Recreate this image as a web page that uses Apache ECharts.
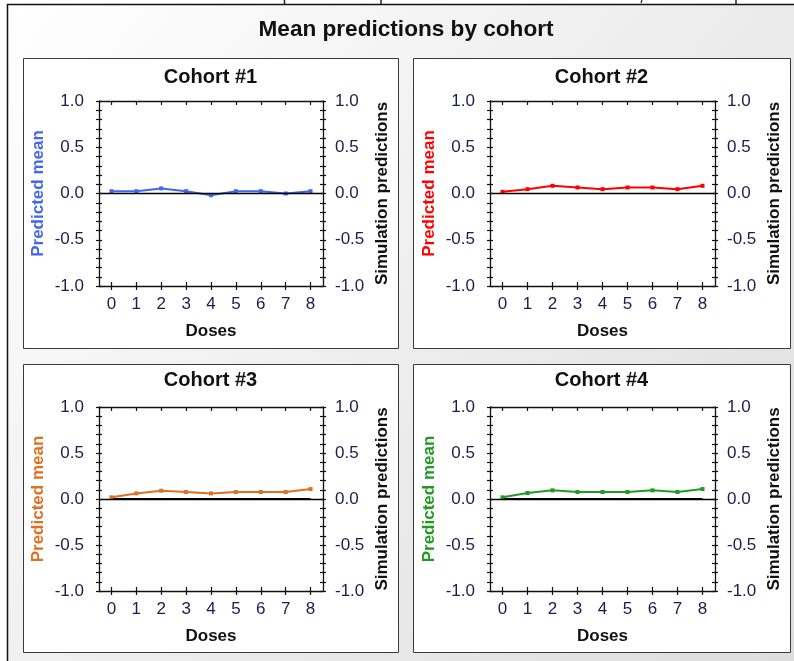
<!DOCTYPE html>
<html>
<head>
<meta charset="utf-8">
<script src="https://cdn.jsdelivr.net/npm/echarts@6/dist/echarts.min.js"></script>
<style>
html,body{margin:0;padding:0;background:#ffffff;}
#c{width:794px;height:661px;}
</style>
</head>
<body>
<div id="c"></div>
<script>
// ---------- data ----------
const mainTitle = 'Mean predictions by cohort';
const doses = ['0', '1', '2', '3', '4', '5', '6', '7', '8'];
const yTickValues = [-1.0, -0.5, 0.0, 0.5, 1.0];
const cohortNames = ['Cohort #1', 'Cohort #2', 'Cohort #3', 'Cohort #4'];
const leftAxisName = 'Predicted mean';
const rightAxisName = 'Simulation predictions';
const xAxisName = 'Doses';
const cohort1Pred = [0.025, 0.025, 0.055, 0.025, -0.018, 0.025, 0.025, 0.0, 0.025];
const cohort2Pred = [0.018, 0.047, 0.083, 0.065, 0.047, 0.065, 0.065, 0.047, 0.083];
const cohort3Pred = [0.018, 0.061, 0.09, 0.076, 0.061, 0.076, 0.076, 0.076, 0.108];
const cohort4Pred = [0.018, 0.065, 0.094, 0.076, 0.076, 0.076, 0.094, 0.076, 0.108];
const cohort1Sim = [];
const cohort2Sim = [];
const cohort3Sim = [0, 0, 0, 0, 0, 0, 0, 0, 0];
const cohort4Sim = [0, 0, 0, 0, 0, 0, 0, 0, 0];

// ---------- layout / style ----------
const FF = '"Liberation Sans", Arial, Helvetica, sans-serif';
const TICK_COLOR = '#1c1c4e';
const AXIS_COLOR = '#111111';
const panels = [
  { pred: cohort1Pred, sim: cohort1Sim, color: '#4466EE', box: [23, 58, 375, 290], grid: { left: 99, top: 101, width: 224, height: 185 }, tx: 210.5, ty: 77 },
  { pred: cohort2Pred, sim: cohort2Sim, color: '#FF0000', box: [413, 58, 377, 290], grid: { left: 490, top: 101, width: 225, height: 185 }, tx: 601.5, ty: 77 },
  { pred: cohort3Pred, sim: cohort3Sim, color: '#E07020', box: [23, 364, 375, 288], grid: { left: 99, top: 407, width: 224, height: 184 }, tx: 210.5, ty: 380 },
  { pred: cohort4Pred, sim: cohort4Sim, color: '#229922', box: [413, 364, 377, 288], grid: { left: 490, top: 407, width: 225, height: 184 }, tx: 601.5, ty: 380 }
];

const grids = [], xAxes = [], yAxes = [], series = [];
const graphics = [
  { type: 'rect', z: -10, shape: { x: 7, y: 4, width: 800, height: 670 },
    style: { fill: new echarts.graphic.LinearGradient(0, 0, 1, 1, [
      { offset: 0, color: '#ffffff' }, { offset: 1, color: '#dcdcdc' }]) } },
  { type: 'polyline', z: -9, shape: { points: [[7.5, 661], [7.5, 4.5], [794, 4.5]] },
    style: { stroke: '#111', lineWidth: 1.5, fill: null } },
  { type: 'line', z: -9, shape: { x1: 284.5, y1: 0, x2: 284.5, y2: 4 }, style: { stroke: '#222', lineWidth: 1.5 } },
  { type: 'line', z: -9, shape: { x1: 381, y1: 0, x2: 381, y2: 4 }, style: { stroke: '#222', lineWidth: 1.5 } },
  { type: 'line', z: -9, shape: { x1: 642, y1: 0, x2: 641, y2: 3 }, style: { stroke: '#222', lineWidth: 1.2 } },
  { type: 'line', z: -9, shape: { x1: 736, y1: 0, x2: 736, y2: 4 }, style: { stroke: '#222', lineWidth: 1.5 } },
  { type: 'text', z: 10, x: 406, y: 30,
    style: { text: mainTitle, font: 'bold 22.6px ' + FF, fill: '#111', textAlign: 'center', textVerticalAlign: 'middle' } }
];

const fmt = v => (Math.abs(v) < 1e-9 ? 0 : v).toFixed(1);

panels.forEach((p, i) => {
  graphics.push({ type: 'rect', z: -8, shape: { x: p.box[0] + 0.5, y: p.box[1] + 0.5, width: p.box[2], height: p.box[3] },
    style: { fill: '#ffffff', stroke: '#3a3a3a', lineWidth: 1 } });
  graphics.push({ type: 'text', z: 10, x: p.tx, y: p.ty,
    style: { text: cohortNames[i], font: 'bold 20px ' + FF, fill: '#111', textAlign: 'center', textVerticalAlign: 'middle' } });

  grids.push(Object.assign({ containLabel: false, outerBoundsMode: 'none' }, p.grid));

  const xBase = xAxes.length;
  const catCommon = { gridIndex: i, type: 'category', data: doses, boundaryGap: true, splitLine: { show: false } };
  xAxes.push(Object.assign({}, catCommon, {
    position: 'bottom',
    axisLine: { show: true, onZero: false, lineStyle: { color: AXIS_COLOR, width: 1.3 } },
    axisTick: { show: true, alignWithLabel: true, inside: false, length: 4, lineStyle: { color: AXIS_COLOR, width: 1.2 } },
    axisLabel: { fontSize: 17, color: TICK_COLOR, fontFamily: FF, margin: 10 },
    name: xAxisName, nameLocation: 'middle', nameGap: 37,
    nameTextStyle: { fontSize: 17, fontWeight: 'bold', color: '#111', fontFamily: FF }
  }));
  xAxes.push(Object.assign({}, catCommon, {
    position: 'bottom',
    axisLine: { show: false, onZero: false },
    axisTick: { show: true, alignWithLabel: true, inside: true, length: 4, lineStyle: { color: AXIS_COLOR, width: 1.2 } },
    axisLabel: { show: false }
  }));
  xAxes.push(Object.assign({}, catCommon, {
    position: 'top',
    axisLine: { show: true, onZero: false, lineStyle: { color: AXIS_COLOR, width: 1.3 } },
    axisTick: { show: true, alignWithLabel: true, inside: true, length: 4, lineStyle: { color: AXIS_COLOR, width: 1.2 } },
    axisLabel: { show: false }
  }));

  const yBase = yAxes.length;
  const valCommon = { gridIndex: i, type: 'value', min: yTickValues[0], max: yTickValues[yTickValues.length - 1], interval: 0.5, splitLine: { show: false } };
  const tickStyle = { color: AXIS_COLOR, width: 1.2 };
  yAxes.push(Object.assign({}, valCommon, {
    position: 'left',
    axisLine: { show: true, onZero: false, lineStyle: { color: AXIS_COLOR, width: 1.3 } },
    axisTick: { show: true, inside: false, length: 3, lineStyle: tickStyle },
    minorTick: { show: true, splitNumber: 5, length: 3, lineStyle: tickStyle },
    axisLabel: { fontSize: 17, color: TICK_COLOR, fontFamily: FF, margin: 15, formatter: fmt },
    name: leftAxisName, nameLocation: 'middle', nameRotate: 90, nameGap: 52,
    nameTextStyle: { fontSize: 17, fontWeight: 'bold', color: p.color, fontFamily: FF }
  }));
  yAxes.push(Object.assign({}, valCommon, {
    position: 'left',
    axisLine: { show: false, onZero: false },
    axisTick: { show: true, inside: true, length: 3, lineStyle: tickStyle },
    minorTick: { show: true, splitNumber: 5, length: 3, lineStyle: tickStyle },
    axisLabel: { show: false }
  }));
  yAxes.push(Object.assign({}, valCommon, {
    position: 'right',
    axisLine: { show: true, onZero: false, lineStyle: { color: AXIS_COLOR, width: 1.3 } },
    axisTick: { show: true, inside: false, length: 3, lineStyle: tickStyle },
    minorTick: { show: true, splitNumber: 5, length: 3, lineStyle: tickStyle },
    axisLabel: { fontSize: 17, color: TICK_COLOR, fontFamily: FF, margin: 12, formatter: fmt },
    name: rightAxisName, nameLocation: 'middle', nameRotate: 90, nameGap: 51,
    nameTextStyle: { fontSize: 17, fontWeight: 'bold', color: '#111', fontFamily: FF }
  }));
  yAxes.push(Object.assign({}, valCommon, {
    position: 'right',
    axisLine: { show: false, onZero: false },
    axisTick: { show: true, inside: true, length: 3, lineStyle: tickStyle },
    minorTick: { show: true, splitNumber: 5, length: 3, lineStyle: tickStyle },
    axisLabel: { show: false }
  }));

  series.push({
    type: 'line', name: rightAxisName + ' ' + (i + 1), xAxisIndex: xBase, yAxisIndex: yBase + 2,
    data: p.sim, symbol: 'none', z: 3,
    lineStyle: { color: '#000', width: 2.2 },
    markLine: { silent: true, symbol: 'none', label: { show: false },
      lineStyle: { color: '#000', width: 1.3, type: 'solid' }, data: [{ yAxis: 0 }] }
  });
  series.push({
    type: 'line', name: leftAxisName + ' ' + (i + 1), xAxisIndex: xBase, yAxisIndex: yBase,
    data: p.pred, symbol: 'rect', symbolSize: 4, showSymbol: true, z: 4,
    itemStyle: { color: p.color }, lineStyle: { color: p.color, width: 2 }
  });
});

const chart = echarts.init(document.getElementById('c'), null, { renderer: 'canvas' });
chart.setOption({
  backgroundColor: '#ffffff',
  animation: false,
  textStyle: { fontFamily: FF },
  graphic: { elements: graphics },
  grid: grids,
  xAxis: xAxes,
  yAxis: yAxes,
  series: series
});
</script>
</body>
</html>
